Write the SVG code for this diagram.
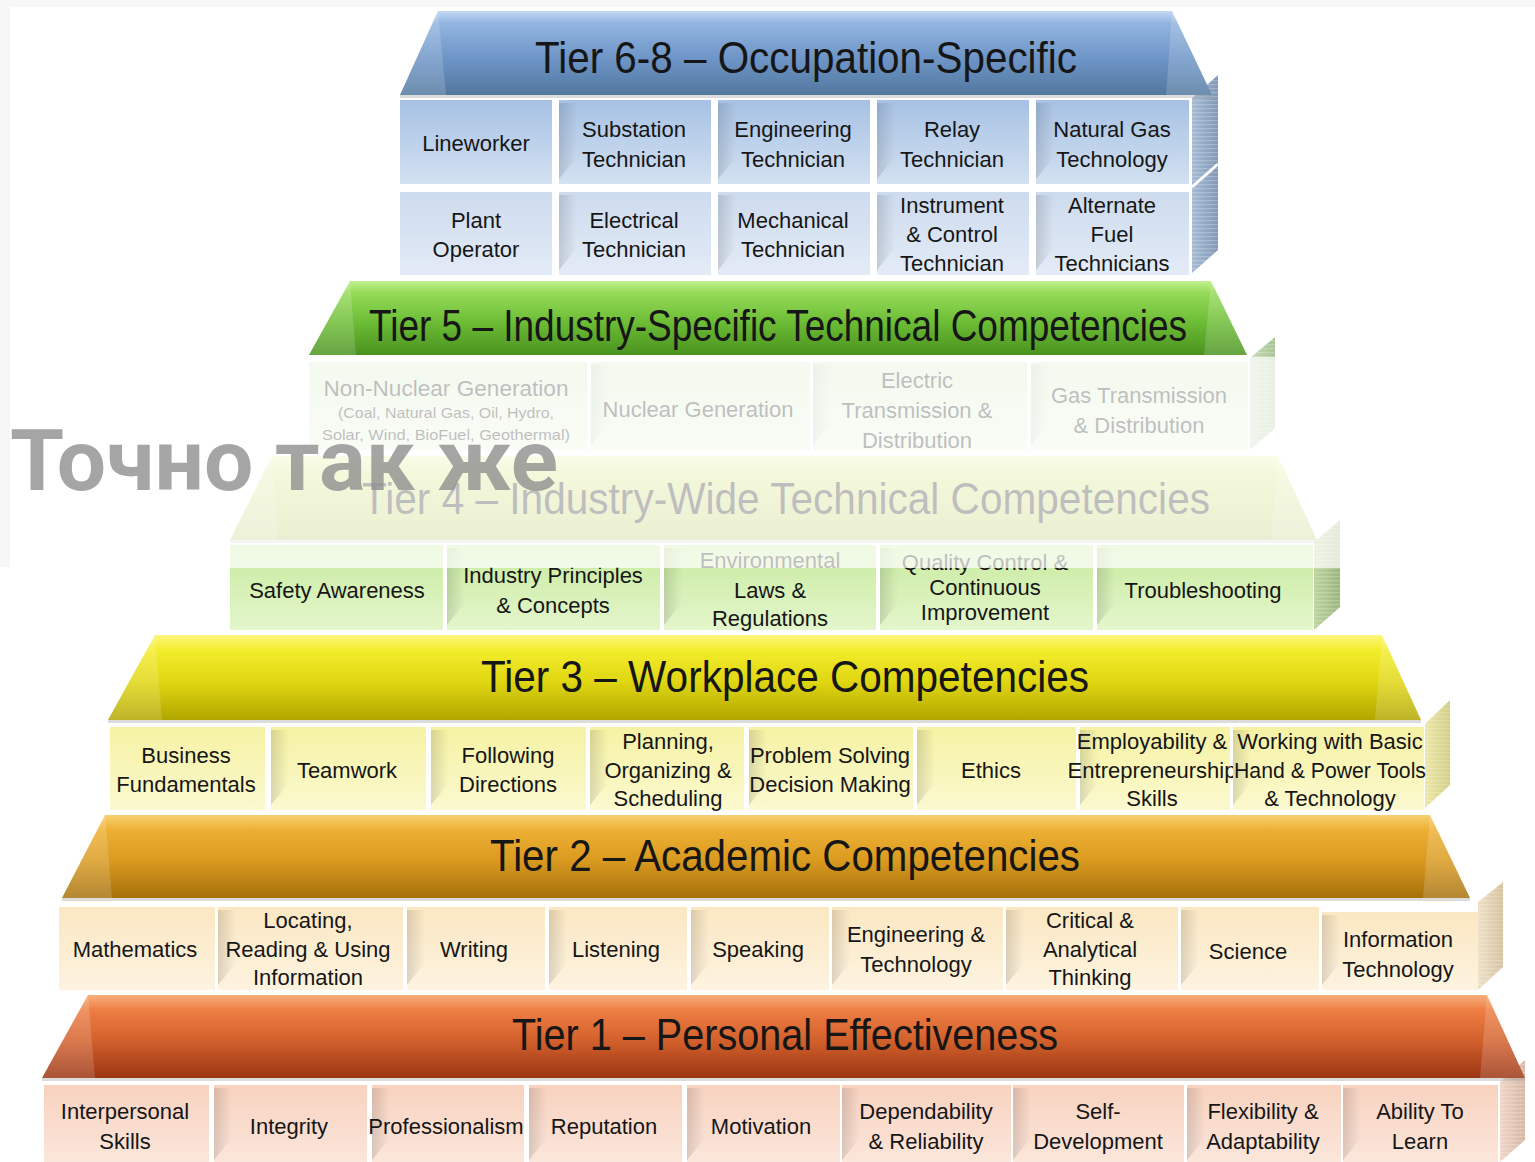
<svg xmlns="http://www.w3.org/2000/svg" width="1535" height="1162" viewBox="0 0 1535 1162">
<style>
text{font-family:"Liberation Sans",Arial,sans-serif;fill:#161616;text-anchor:middle}
.c{font-size:22px}
.s{font-size:15px}
.ttl{font-size:44px}
.tab{fill:url(#tab)}
.end{fill:#fff;fill-opacity:.16}
.shadow{fill:#9a9a9a;fill-opacity:.35}
.div{stroke:#fff;stroke-width:3}
.wm{font-family:Roboto,"Open Sans","DejaVu Sans",sans-serif;font-weight:700;font-size:86px;fill:#8f8f8f;fill-opacity:.8;text-anchor:start}
</style>
<defs>
<linearGradient id="tab" x1="0" y1="0" x2="1" y2="0"><stop offset="0" stop-color="#000" stop-opacity=".13"/><stop offset="1" stop-color="#000" stop-opacity="0"/></linearGradient>
<linearGradient id="h68" x1="0" y1="0" x2="0" y2="1"><stop offset="0" stop-color="#c4daf4"/><stop offset=".14" stop-color="#93b5e0"/><stop offset=".55" stop-color="#6f96c8"/><stop offset="1" stop-color="#52789f"/></linearGradient>
<linearGradient id="c68a" x1="0" y1="0" x2="0" y2="1"><stop offset="0" stop-color="#a6c1e4"/><stop offset="1" stop-color="#d3e1f1"/></linearGradient>
<linearGradient id="c68b" x1="0" y1="0" x2="0" y2="1"><stop offset="0" stop-color="#cddbee"/><stop offset="1" stop-color="#e3ebf6"/></linearGradient>
<linearGradient id="h5" x1="0" y1="0" x2="0" y2="1"><stop offset="0" stop-color="#c2f290"/><stop offset=".15" stop-color="#97db5a"/><stop offset=".55" stop-color="#6dbd36"/><stop offset="1" stop-color="#4a921f"/></linearGradient>
<linearGradient id="c5" x1="0" y1="0" x2="0" y2="1"><stop offset="0" stop-color="#d6ecc8"/><stop offset="1" stop-color="#e6f3dc"/></linearGradient>
<linearGradient id="h4" x1="0" y1="0" x2="0" y2="1"><stop offset="0" stop-color="#eef6b0"/><stop offset=".2" stop-color="#d8e680"/><stop offset="1" stop-color="#b4c660"/></linearGradient>
<linearGradient id="c4" x1="0" y1="0" x2="0" y2="1"><stop offset="0" stop-color="#c8ea9e"/><stop offset="1" stop-color="#e4f6cc"/></linearGradient>
<linearGradient id="h3" x1="0" y1="0" x2="0" y2="1"><stop offset="0" stop-color="#fbf77c"/><stop offset=".18" stop-color="#f3ed2c"/><stop offset=".55" stop-color="#e0d612"/><stop offset="1" stop-color="#b1a600"/></linearGradient>
<linearGradient id="c3" x1="0" y1="0" x2="0" y2="1"><stop offset="0" stop-color="#f6f2a4"/><stop offset="1" stop-color="#fbf9cf"/></linearGradient>
<linearGradient id="h2" x1="0" y1="0" x2="0" y2="1"><stop offset="0" stop-color="#f7d072"/><stop offset=".18" stop-color="#eeb034"/><stop offset=".55" stop-color="#d99a1f"/><stop offset="1" stop-color="#a6700c"/></linearGradient>
<linearGradient id="c2" x1="0" y1="0" x2="0" y2="1"><stop offset="0" stop-color="#fbe7c2"/><stop offset="1" stop-color="#fdf3e0"/></linearGradient>
<linearGradient id="h1" x1="0" y1="0" x2="0" y2="1"><stop offset="0" stop-color="#f7b07c"/><stop offset=".18" stop-color="#ee7e44"/><stop offset=".55" stop-color="#d2602c"/><stop offset="1" stop-color="#9a3512"/></linearGradient>
<linearGradient id="c1" x1="0" y1="0" x2="0" y2="1"><stop offset="0" stop-color="#f8d2bf"/><stop offset="1" stop-color="#fbe7dc"/></linearGradient>
<linearGradient id="s68" x1="0" y1="0" x2="1" y2="0"><stop offset="0" stop-color="#a7bbd5"/><stop offset="1" stop-color="#8198b6"/></linearGradient>
<linearGradient id="s5" x1="0" y1="0" x2="1" y2="0"><stop offset="0" stop-color="#c6dcb6"/><stop offset="1" stop-color="#a9c597"/></linearGradient>
<linearGradient id="s4" x1="0" y1="0" x2="1" y2="0"><stop offset="0" stop-color="#bdd4a0"/><stop offset="1" stop-color="#9db67e"/></linearGradient>
<linearGradient id="s3" x1="0" y1="0" x2="1" y2="0"><stop offset="0" stop-color="#ece8a8"/><stop offset="1" stop-color="#d3ce88"/></linearGradient>
<linearGradient id="s2" x1="0" y1="0" x2="1" y2="0"><stop offset="0" stop-color="#ede0c6"/><stop offset="1" stop-color="#d6c4a2"/></linearGradient>
<linearGradient id="s1" x1="0" y1="0" x2="1" y2="0"><stop offset="0" stop-color="#efd6c7"/><stop offset="1" stop-color="#d8b7a4"/></linearGradient>
<pattern id="stripe" width="8" height="4" patternUnits="userSpaceOnUse"><rect width="8" height="1.2" fill="#fff" fill-opacity=".22"/></pattern>
</defs>

<rect width="1535" height="1162" fill="#fff"/>
<rect width="1535" height="7" fill="#f7f7f7"/>
<rect width="10" height="567" fill="#f7f7f7"/>

<!-- Tier 6-8 -->
<g id="tier68">
<g id="t68-side"><polygon points="1192,98 1218,75 1218,250 1192,273" fill="url(#s68)"/><polygon points="1192,98 1218,75 1218,250 1192,273" fill="url(#stripe)"/><line class="div" x1="1192" y1="187" x2="1218" y2="164"/></g>
<g id="t68-header"><polygon points="438,11 1172,11 1212,95 400,95" fill="url(#h68)"/><polygon class="end" points="438,11 400,95 446,95"/><polygon class="end" points="1172,11 1212,95 1166,95"/><rect class="shadow" x="400" y="95" width="812" height="3"/><text class="ttl" x="806" y="73" textLength="542" lengthAdjust="spacingAndGlyphs">Tier 6-8 – Occupation-Specific</text></g>
<g id="t68-lineworker"><rect x="400" y="100" width="152" height="84" fill="url(#c68a)"/><text class="c" x="476" y="151">Lineworker</text></g>
<g id="t68-substation"><rect x="559" y="100" width="152" height="84" fill="url(#c68a)"/><path class="tab" d="M559 103h18v54l-18 22z"/><text class="c" x="634" y="137">Substation</text><text class="c" x="634" y="167">Technician</text></g>
<g id="t68-engineering"><rect x="718" y="100" width="152" height="84" fill="url(#c68a)"/><path class="tab" d="M718 103h18v54l-18 22z"/><text class="c" x="793" y="137">Engineering</text><text class="c" x="793" y="167">Technician</text></g>
<g id="t68-relay"><rect x="877" y="100" width="152" height="84" fill="url(#c68a)"/><path class="tab" d="M877 103h18v54l-18 22z"/><text class="c" x="952" y="137">Relay</text><text class="c" x="952" y="167">Technician</text></g>
<g id="t68-naturalgas"><rect x="1036" y="100" width="153" height="84" fill="url(#c68a)"/><path class="tab" d="M1036 103h18v54l-18 22z"/><text class="c" x="1112" y="137">Natural Gas</text><text class="c" x="1112" y="167">Technology</text></g>
<g id="t68-plant"><rect x="400" y="192" width="152" height="83" fill="url(#c68b)"/><text class="c" x="476" y="228">Plant</text><text class="c" x="476" y="257">Operator</text></g>
<g id="t68-electrical"><rect x="559" y="192" width="152" height="83" fill="url(#c68b)"/><path class="tab" d="M559 195h18v53l-18 22z"/><text class="c" x="634" y="228">Electrical</text><text class="c" x="634" y="257">Technician</text></g>
<g id="t68-mechanical"><rect x="718" y="192" width="152" height="83" fill="url(#c68b)"/><path class="tab" d="M718 195h18v53l-18 22z"/><text class="c" x="793" y="228">Mechanical</text><text class="c" x="793" y="257">Technician</text></g>
<g id="t68-instrument"><rect x="877" y="192" width="152" height="83" fill="url(#c68b)"/><path class="tab" d="M877 195h18v53l-18 22z"/><text class="c" x="952" y="213">Instrument</text><text class="c" x="952" y="242">&amp; Control</text><text class="c" x="952" y="271">Technician</text></g>
<g id="t68-altfuel"><rect x="1036" y="192" width="153" height="83" fill="url(#c68b)"/><path class="tab" d="M1036 195h18v53l-18 22z"/><text class="c" x="1112" y="213">Alternate</text><text class="c" x="1112" y="242">Fuel</text><text class="c" x="1112" y="271">Technicians</text></g>
</g>

<!-- Tier 5 -->
<g id="tier5">
<g id="t5-side"><polygon points="1250,358 1275,337 1275,428 1250,450" fill="url(#s5)"/><polygon points="1250,358 1275,337 1275,428 1250,450" fill="url(#stripe)"/></g>
<g id="t5-header"><polygon points="350,281 1211,281 1247,355 309,355" fill="url(#h5)"/><polygon class="end" points="350,281 309,355 356,355"/><polygon class="end" points="1211,281 1247,355 1204,355"/><text class="ttl" x="778" y="341" textLength="818" lengthAdjust="spacingAndGlyphs">Tier 5 – Industry-Specific Technical Competencies</text></g>
<g id="t5-nonnuclear"><rect x="309" y="362" width="278" height="88" fill="url(#c5)"/><text class="c" x="446" y="396" textLength="245" lengthAdjust="spacingAndGlyphs">Non-Nuclear Generation</text><text class="s" x="446" y="418" textLength="216" lengthAdjust="spacingAndGlyphs">(Coal, Natural Gas, Oil, Hydro,</text><text class="s" x="446" y="440" textLength="248" lengthAdjust="spacingAndGlyphs">Solar, Wind, BioFuel, Geothermal)</text></g>
<g id="t5-nuclear"><rect x="591" y="362" width="219" height="88" fill="url(#c5)"/><path class="tab" d="M591 365h18v58l-18 22z"/><text class="c" x="698" y="417">Nuclear Generation</text></g>
<g id="t5-electric"><rect x="813" y="362" width="214" height="88" fill="url(#c5)"/><path class="tab" d="M813 365h18v58l-18 22z"/><text class="c" x="917" y="388">Electric</text><text class="c" x="917" y="418">Transmission &amp;</text><text class="c" x="917" y="448">Distribution</text></g>
<g id="t5-gas"><rect x="1031" y="362" width="217" height="88" fill="url(#c5)"/><path class="tab" d="M1031 365h18v58l-18 22z"/><text class="c" x="1139" y="403" textLength="176" lengthAdjust="spacingAndGlyphs">Gas Transmission</text><text class="c" x="1139" y="433">&amp; Distribution</text></g>
</g>

<!-- Tier 4 -->
<g id="tier4">
<g id="t4-side"><polygon points="1314,542 1340,520 1340,607 1314,630" fill="url(#s4)"/><polygon points="1314,542 1340,520 1340,607 1314,630" fill="url(#stripe)"/></g>
<g id="t4-header"><polygon points="272,456 1278,456 1317,540 230,540" fill="url(#h4)"/><polygon class="end" points="272,456 230,540 278,540"/><polygon class="end" points="1278,456 1317,540 1271,540"/><rect class="shadow" x="230" y="540" width="1087" height="3"/><text class="ttl" x="786" y="514" textLength="848" lengthAdjust="spacingAndGlyphs">Tier 4 – Industry-Wide Technical Competencies</text></g>
<g id="t4-safety"><rect x="230" y="545" width="213" height="85" fill="url(#c4)"/><text class="c" x="337" y="598">Safety Awareness</text></g>
<g id="t4-principles"><rect x="447" y="545" width="213" height="85" fill="url(#c4)"/><path class="tab" d="M447 548h18v55l-18 22z"/><text class="c" x="553" y="583">Industry Principles</text><text class="c" x="553" y="613">&amp; Concepts</text></g>
<g id="t4-environmental"><rect x="664" y="545" width="212" height="85" fill="url(#c4)"/><path class="tab" d="M664 548h18v55l-18 22z"/><text class="c" x="770" y="568">Environmental</text><text class="c" x="770" y="598">Laws &amp;</text><text class="c" x="770" y="626">Regulations</text></g>
<g id="t4-quality"><rect x="880" y="545" width="213" height="85" fill="url(#c4)"/><path class="tab" d="M880 548h18v55l-18 22z"/><text class="c" x="985" y="570">Quality Control &amp;</text><text class="c" x="985" y="595">Continuous</text><text class="c" x="985" y="620">Improvement</text></g>
<g id="t4-troubleshooting"><rect x="1097" y="545" width="216" height="85" fill="url(#c4)"/><path class="tab" d="M1097 548h18v55l-18 22z"/><text class="c" x="1203" y="598">Troubleshooting</text></g>
</g>

<!-- fade overlay over tiers 5 and 4 -->
<rect id="fade" x="10" y="357" width="1525" height="211" fill="#fff" fill-opacity=".72"/>

<!-- Tier 3 -->
<g id="tier3">
<g id="t3-side"><polygon points="1425,724 1450,700 1450,785 1425,808" fill="url(#s3)"/><polygon points="1425,724 1450,700 1450,785 1425,808" fill="url(#stripe)"/></g>
<g id="t3-header"><polygon points="155,635 1382,635 1421,720 108,720" fill="url(#h3)"/><polygon class="end" points="155,635 108,720 162,720"/><polygon class="end" points="1382,635 1421,720 1375,720"/><rect class="shadow" x="108" y="720" width="1313" height="3"/><text class="ttl" x="785" y="692" textLength="608" lengthAdjust="spacingAndGlyphs">Tier 3 – Workplace Competencies</text></g>
<g id="t3-business"><rect x="110" y="727" width="155" height="83" fill="url(#c3)"/><text class="c" x="186" y="763">Business</text><text class="c" x="186" y="792">Fundamentals</text></g>
<g id="t3-teamwork"><rect x="271" y="727" width="155" height="83" fill="url(#c3)"/><path class="tab" d="M271 730h18v53l-18 22z"/><text class="c" x="347" y="778">Teamwork</text></g>
<g id="t3-following"><rect x="431" y="727" width="155" height="83" fill="url(#c3)"/><path class="tab" d="M431 730h18v53l-18 22z"/><text class="c" x="508" y="763">Following</text><text class="c" x="508" y="792">Directions</text></g>
<g id="t3-planning"><rect x="590" y="727" width="154" height="83" fill="url(#c3)"/><path class="tab" d="M590 730h18v53l-18 22z"/><text class="c" x="668" y="749">Planning,</text><text class="c" x="668" y="778">Organizing &amp;</text><text class="c" x="668" y="806">Scheduling</text></g>
<g id="t3-problem"><rect x="749" y="727" width="164" height="83" fill="url(#c3)"/><path class="tab" d="M749 730h18v53l-18 22z"/><text class="c" x="830" y="763">Problem Solving</text><text class="c" x="830" y="792">Decision Making</text></g>
<g id="t3-ethics"><rect x="917" y="727" width="159" height="83" fill="url(#c3)"/><path class="tab" d="M917 730h18v53l-18 22z"/><text class="c" x="991" y="778">Ethics</text></g>
<g id="t3-employability"><rect x="1080" y="727" width="150" height="83" fill="url(#c3)"/><path class="tab" d="M1080 730h18v53l-18 22z"/><text class="c" x="1152" y="749">Employability &amp;</text><text class="c" x="1152" y="778">Entrepreneurship</text><text class="c" x="1152" y="806">Skills</text></g>
<g id="t3-tools"><rect x="1233" y="727" width="191" height="83" fill="url(#c3)"/><path class="tab" d="M1233 730h18v53l-18 22z"/><text class="c" x="1330" y="749">Working with Basic</text><text class="c" x="1330" y="778" textLength="192" lengthAdjust="spacingAndGlyphs">Hand &amp; Power Tools</text><text class="c" x="1330" y="806">&amp; Technology</text></g>
</g>

<!-- Tier 2 -->
<g id="tier2">
<g id="t2-side"><polygon points="1478,902 1503,882 1503,967 1478,990" fill="url(#s2)"/><polygon points="1478,902 1503,882 1503,967 1478,990" fill="url(#stripe)"/></g>
<g id="t2-header"><polygon points="105,815 1430,815 1470,898 62,898" fill="url(#h2)"/><polygon class="end" points="105,815 62,898 112,898"/><polygon class="end" points="1430,815 1470,898 1423,898"/><rect class="shadow" x="62" y="898" width="1408" height="3"/><text class="ttl" x="785" y="871" textLength="590" lengthAdjust="spacingAndGlyphs">Tier 2 – Academic Competencies</text></g>
<g id="t2-math"><rect x="59" y="907" width="156" height="83" fill="url(#c2)"/><text class="c" x="135" y="957">Mathematics</text></g>
<g id="t2-locating"><rect x="218" y="907" width="185" height="83" fill="url(#c2)"/><path class="tab" d="M218 910h18v53l-18 22z"/><text class="c" x="308" y="928">Locating,</text><text class="c" x="308" y="957">Reading &amp; Using</text><text class="c" x="308" y="985">Information</text></g>
<g id="t2-writing"><rect x="407" y="907" width="138" height="83" fill="url(#c2)"/><path class="tab" d="M407 910h18v53l-18 22z"/><text class="c" x="474" y="957">Writing</text></g>
<g id="t2-listening"><rect x="549" y="907" width="138" height="83" fill="url(#c2)"/><path class="tab" d="M549 910h18v53l-18 22z"/><text class="c" x="616" y="957">Listening</text></g>
<g id="t2-speaking"><rect x="691" y="907" width="138" height="83" fill="url(#c2)"/><path class="tab" d="M691 910h18v53l-18 22z"/><text class="c" x="758" y="957">Speaking</text></g>
<g id="t2-engineering"><rect x="832" y="907" width="171" height="83" fill="url(#c2)"/><path class="tab" d="M832 910h18v53l-18 22z"/><text class="c" x="916" y="942">Engineering &amp;</text><text class="c" x="916" y="972">Technology</text></g>
<g id="t2-critical"><rect x="1006" y="907" width="172" height="83" fill="url(#c2)"/><path class="tab" d="M1006 910h18v53l-18 22z"/><text class="c" x="1090" y="928">Critical &amp;</text><text class="c" x="1090" y="957">Analytical</text><text class="c" x="1090" y="985">Thinking</text></g>
<g id="t2-science"><rect x="1181" y="907" width="138" height="83" fill="url(#c2)"/><path class="tab" d="M1181 910h18v53l-18 22z"/><text class="c" x="1248" y="959">Science</text></g>
<g id="t2-it"><rect x="1322" y="912" width="156" height="78" fill="url(#c2)"/><path class="tab" d="M1322 915h18v48l-18 22z"/><text class="c" x="1398" y="947">Information</text><text class="c" x="1398" y="977">Technology</text></g>
</g>

<!-- Tier 1 -->
<g id="tier1">
<g id="t1-side"><polygon points="1500,1082 1525,1060 1525,1140 1500,1162" fill="url(#s1)"/><polygon points="1500,1082 1525,1060 1525,1140 1500,1162" fill="url(#stripe)"/></g>
<g id="t1-header"><polygon points="88,995 1487,995 1525,1078 42,1078" fill="url(#h1)"/><polygon class="end" points="88,995 42,1078 95,1078"/><polygon class="end" points="1487,995 1525,1078 1480,1078"/><rect class="shadow" x="42" y="1078" width="1483" height="3"/><text class="ttl" x="785" y="1050" textLength="546" lengthAdjust="spacingAndGlyphs">Tier 1 – Personal Effectiveness</text></g>
<g id="t1-interpersonal"><rect x="44" y="1085" width="165" height="80" fill="url(#c1)"/><text class="c" x="125" y="1119">Interpersonal</text><text class="c" x="125" y="1149">Skills</text></g>
<g id="t1-integrity"><rect x="214" y="1085" width="153" height="80" fill="url(#c1)"/><path class="tab" d="M214 1088h18v50l-18 22z"/><text class="c" x="289" y="1134">Integrity</text></g>
<g id="t1-professionalism"><rect x="372" y="1085" width="152" height="80" fill="url(#c1)"/><path class="tab" d="M372 1088h18v50l-18 22z"/><text class="c" x="446" y="1134">Professionalism</text></g>
<g id="t1-reputation"><rect x="529" y="1085" width="153" height="80" fill="url(#c1)"/><path class="tab" d="M529 1088h18v50l-18 22z"/><text class="c" x="604" y="1134">Reputation</text></g>
<g id="t1-motivation"><rect x="687" y="1085" width="153" height="80" fill="url(#c1)"/><path class="tab" d="M687 1088h18v50l-18 22z"/><text class="c" x="761" y="1134">Motivation</text></g>
<g id="t1-dependability"><rect x="842" y="1085" width="169" height="80" fill="url(#c1)"/><path class="tab" d="M842 1088h18v50l-18 22z"/><text class="c" x="926" y="1119">Dependability</text><text class="c" x="926" y="1149">&amp; Reliability</text></g>
<g id="t1-selfdev"><rect x="1013" y="1085" width="171" height="80" fill="url(#c1)"/><path class="tab" d="M1013 1088h18v50l-18 22z"/><text class="c" x="1098" y="1119">Self-</text><text class="c" x="1098" y="1149">Development</text></g>
<g id="t1-flexibility"><rect x="1187" y="1085" width="154" height="80" fill="url(#c1)"/><path class="tab" d="M1187 1088h18v50l-18 22z"/><text class="c" x="1263" y="1119">Flexibility &amp;</text><text class="c" x="1263" y="1149">Adaptability</text></g>
<g id="t1-learn"><rect x="1343" y="1085" width="155" height="80" fill="url(#c1)"/><path class="tab" d="M1343 1088h18v50l-18 22z"/><text class="c" x="1420" y="1119">Ability To</text><text class="c" x="1420" y="1149">Learn</text></g>
</g>

<text class="wm" x="10" y="490" textLength="548" lengthAdjust="spacingAndGlyphs">Точно так же</text>
</svg>
